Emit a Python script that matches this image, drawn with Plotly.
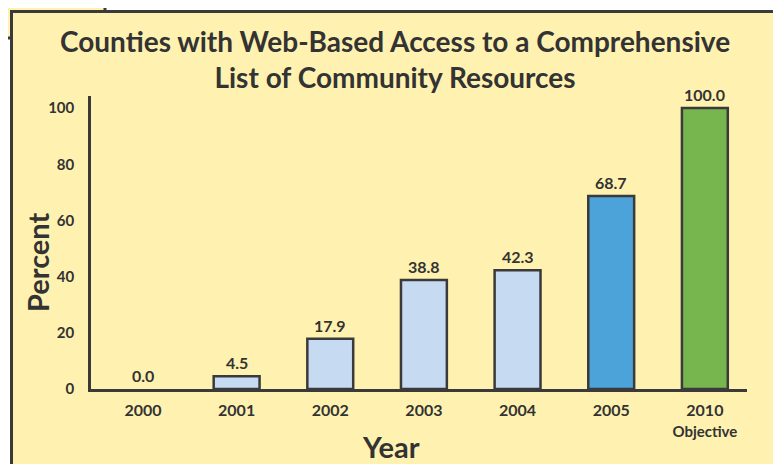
import plotly.graph_objects as go

categories = ["2000", "2001", "2002", "2003", "2004", "2005", "2010<br><span style='font-size:15px'>Objective</span>"]
values = [0.0, 4.5, 17.9, 38.8, 42.3, 68.7, 100.0]
labels = ["0.0", "4.5", "17.9", "38.8", "42.3", "68.7", "100.0"]
bar_colors = ["#C6DAF2", "#C6DAF2", "#C6DAF2", "#C6DAF2", "#C6DAF2", "#4BA3DA", "#77B54F"]
y_ticks = [0, 20, 40, 60, 80, 100]
title_text = "Counties with Web-Based Access to a Comprehensive<br>List of Community Resources"

W, H = 781, 464
OFF = 8  # page body margin
L, R, T, B = 83, 42, 88, 83
pw, ph = W - L - R, H - T - B
BG = "#FFF2B0"
INK = "#3A3A3A"
TXT = "#333333"
FONT = "Lato"


def px2x(px):
    return (px - OFF - L) / pw


def px2y(py):
    return (H - B - (py - OFF)) / ph


xs = list(range(len(categories)))
line_widths = [2.5 if v > 0 else 0 for v in values]

fig = go.Figure()
fig.add_trace(go.Bar(
    x=xs, y=values, width=0.49,
    marker=dict(color=bar_colors, line=dict(color=INK, width=line_widths)),
    hoverinfo="skip",
))

annotations = []
for xi, v, lab in zip(xs, values, labels):
    annotations.append(dict(x=xi, y=v, xref="x", yref="y", text=lab, showarrow=False,
                            yanchor="bottom", yshift=2,
                            font=dict(family=FONT, size=16, color=TXT, weight="bold")))

annotations.append(dict(x=px2x(395), y=px2y(59), xref="paper", yref="paper", text=title_text,
                        showarrow=False, xanchor="center", yanchor="middle",
                        font=dict(family=FONT, size=28, color=TXT, weight="bold")))
annotations.append(dict(x=px2x(391), y=px2y(446), xref="paper", yref="paper", text="Year",
                        showarrow=False, xanchor="center", yanchor="middle",
                        font=dict(family=FONT, size=29, color=TXT, weight="bold")))
annotations.append(dict(x=px2x(37), y=px2y(262), xref="paper", yref="paper", text="Percent",
                        showarrow=False, xanchor="center", yanchor="middle", textangle=-90,
                        font=dict(family=FONT, size=29, color=TXT, weight="bold")))

shapes = [
    dict(type="rect", xref="paper", yref="paper", layer="below",
         x0=px2x(-10), x1=px2x(105), y0=px2y(38), y1=px2y(-10),
         fillcolor=BG, line=dict(color=INK, width=3)),
    dict(type="rect", xref="paper", yref="paper", layer="below",
         x0=px2x(11.5), x1=px2x(776.5), y0=px2y(490), y1=px2y(11.5),
         fillcolor=BG, line=dict(color=INK, width=3)),
]

fig.update_layout(
    width=W, height=H,
    margin=dict(l=L, r=R, t=T, b=B, pad=0),
    paper_bgcolor="white", plot_bgcolor="rgba(0,0,0,0)",
    showlegend=False,
    shapes=shapes, annotations=annotations,
    font=dict(family=FONT, color=TXT),
    xaxis=dict(range=[-0.555, 6.45], tickmode="array", tickvals=xs, ticktext=categories,
               showgrid=False, zeroline=False, showline=True, linecolor=INK, linewidth=2.5,
               ticks="", ticklabelstandoff=5,
               tickfont=dict(family=FONT, size=16, color=TXT, weight="bold"), fixedrange=True),
    yaxis=dict(range=[0, 104.3], tickmode="array", tickvals=y_ticks,
               showgrid=False, zeroline=False, showline=True, linecolor=INK, linewidth=2.5,
               ticks="", ticklabelstandoff=11,
               tickfont=dict(family=FONT, size=15, color=TXT, weight="bold"), fixedrange=True),
)

fig.write_html("out.html", config={"displayModeBar": False})
